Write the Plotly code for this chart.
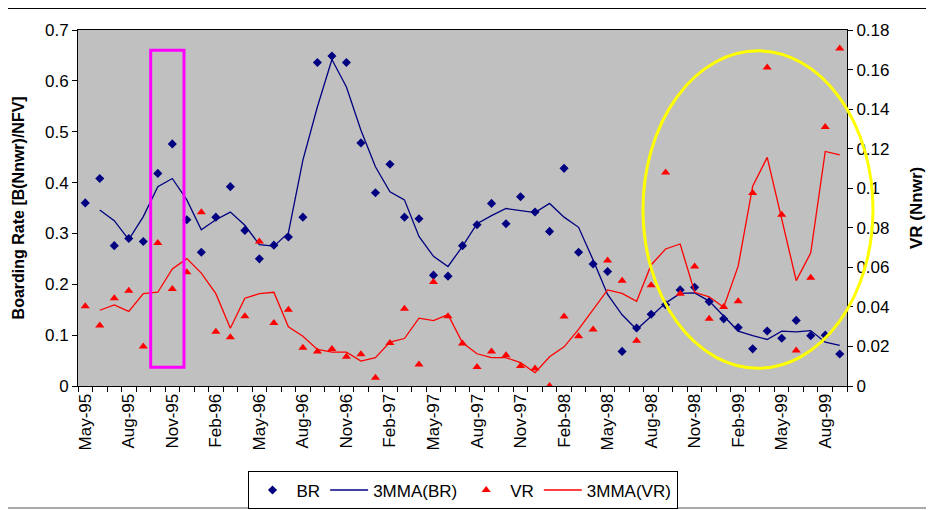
# ================================
# Bibliotecas
# ================================
import pandas as pd
import plotly.graph_objects as go

# ================================
# Dados
# ================================
meses = list(pd.date_range('1995-05-01', periods=53, freq='MS').strftime('%b-%y'))

br = [0.360, 0.408, 0.276, 0.290, 0.284, 0.418, 0.476, 0.327,
      0.263, 0.332, 0.392, 0.306, 0.250, 0.277, 0.293, 0.332, 0.636, 0.649, 0.636, 0.478,
      0.380, 0.436, 0.332, 0.329, 0.218, 0.216, 0.276, 0.317, 0.359, 0.319, 0.372, 0.342,
      0.304, 0.428, 0.263, 0.240, 0.225, 0.068, 0.114, 0.141, 0.160, 0.189, 0.194, 0.166,
      0.132, 0.115, 0.073, 0.108, 0.094, 0.129, 0.099, 0.100, 0.063]

mma_br = [None, 0.346, 0.325, 0.288, 0.333, 0.392, 0.408, 0.366,
          0.307, 0.327, 0.342, 0.316, 0.278, 0.275, 0.301, 0.444, 0.549, 0.642, 0.588, 0.503,
          0.431, 0.382, 0.366, 0.294, 0.255, 0.235, 0.2745, 0.319, 0.335, 0.349, 0.345, 0.341,
          0.359, 0.332, 0.312, 0.248, 0.180, 0.140, 0.111, 0.137, 0.163, 0.182, 0.183, 0.167,
          0.138, 0.108, 0.099, 0.0915, 0.108, 0.1065, 0.109, 0.086, 0.080]

vr = [0.0403, 0.0306, 0.0444, 0.0481, 0.0200, 0.0723, 0.0491, 0.0575,
      0.0879, 0.0274, 0.0247, 0.0353, 0.0730, 0.0319, 0.0385, 0.0193, 0.0175, 0.0187, 0.0148, 0.0161,
      0.0042, 0.0218, 0.0390, 0.0109, 0.0526, 0.0353, 0.0215, 0.0096, 0.0175, 0.0155, 0.0101, 0.0089,
      0.0000, 0.0351, 0.0252, 0.0286, 0.0635, 0.0532, 0.0229, 0.0510, 0.1080, 0.0466, 0.0604, 0.0340,
      0.0399, 0.0428, 0.0976, 0.1610, 0.0866, 0.0180, 0.0547, 0.1310, 0.1707]

mma_vr = [None, 0.0383, 0.0410, 0.0377, 0.0467, 0.0474, 0.0592, 0.0644,
          0.0571, 0.0467, 0.0292, 0.0444, 0.0467, 0.0474, 0.0299, 0.0252, 0.0185, 0.0171, 0.0171, 0.0126,
          0.0143, 0.0222, 0.0240, 0.0343, 0.0331, 0.0361, 0.0218, 0.0163, 0.0143, 0.0143, 0.0118, 0.0067,
          0.0148, 0.0198, 0.0286, 0.0386, 0.0486, 0.0468, 0.0428, 0.0612, 0.0693, 0.0718, 0.0474, 0.0451,
          0.0398, 0.0606, 0.1010, 0.1156, 0.0841, 0.0533, 0.0673, 0.1186, 0.1169]

rotulos = [m if i % 3 == 0 else '' for i, m in enumerate(meses)]

# ================================
# Gráfico
# ================================
fonte = 'Liberation Sans, Arial, sans-serif'
azul = '#000080'
vermelho = '#FF0000'

fig = go.Figure()
fig.add_trace(go.Scatter(x=meses, y=br, name='BR', mode='markers',
                         marker=dict(symbol='diamond', size=7, color=azul)))
fig.add_trace(go.Scatter(x=meses, y=mma_br, name='3MMA(BR)', mode='lines',
                         line=dict(color=azul, width=1.3)))
fig.add_trace(go.Scatter(x=meses, y=vr, name='VR', mode='markers', yaxis='y2',
                         marker=dict(symbol='triangle-up', size=8, color=vermelho)))
fig.add_trace(go.Scatter(x=meses, y=mma_vr, name='3MMA(VR)', mode='lines', yaxis='y2',
                         line=dict(color=vermelho, width=1.3)))

# a página tem margem de 8px no body: figura 926x502
fig.update_layout(
    width=926, height=502,
    margin=dict(l=70, r=87, t=22, b=124, autoexpand=False),
    paper_bgcolor='white', plot_bgcolor='#C0C0C0',
    font=dict(family=fonte, size=17, color='black'),
    showlegend=True,
    legend=dict(orientation='h', x=0.5, xanchor='center', y=-0.24, yanchor='top',
                bordercolor='black', borderwidth=1, font=dict(size=17),
                itemwidth=38, tracegroupgap=0),
    xaxis=dict(type='category', tickmode='array', tickvals=meses, ticktext=rotulos,
               tickangle=-90, tickson='boundaries', ticks='outside', ticklen=5,
               tickcolor='black', showline=True, linecolor='black', mirror=True,
               showgrid=False, zeroline=False, range=[-0.5, 52.5], automargin=False,
               tickfont=dict(size=17)),
    yaxis=dict(range=[0, 0.7], dtick=0.1, ticks='outside', ticklen=5, tickcolor='black',
               showline=True, linecolor='black', showgrid=False, zeroline=False,
               automargin=False),
    yaxis2=dict(range=[0, 0.18], dtick=0.02, overlaying='y', side='right',
                ticks='outside', ticklen=5, tickcolor='black', automargin=False,
                showline=True, linecolor='black', showgrid=False, zeroline=False),
)

# títulos dos eixos
fig.add_annotation(text='<b>Boarding Rate [B(Nnwr)/NFV]</b>', xref='paper', yref='paper',
                   x=-0.0775, y=0.5, textangle=-90, showarrow=False,
                   xanchor='center', yanchor='middle', font=dict(size=16))
fig.add_annotation(text='<b>VR (Nnwr)</b>', xref='paper', yref='paper',
                   x=1.0897, y=0.5, textangle=-90, showarrow=False,
                   xanchor='center', yanchor='middle', font=dict(size=17))

# destaques: retângulo magenta e elipse amarela
fig.add_shape(type='rect', xref='paper', yref='y', x0=0.0945, x1=0.1378, y0=0.037, y1=0.66,
              line=dict(color='#FF00FF', width=3))
fig.add_shape(type='circle', xref='paper', yref='y', x0=0.7347, x1=1.0338, y0=0.035, y1=0.659,
              line=dict(color='#FFFF00', width=3))

# bordas da área do gráfico
fig.add_shape(type='line', xref='paper', yref='paper', x0=-0.3, x1=1.3, y0=1.0604, y1=1.0604,
              line=dict(color='black', width=1))
fig.add_shape(type='line', xref='paper', yref='paper', x0=-0.3, x1=1.3, y0=-0.3427, y1=-0.3427,
              line=dict(color='#555555', width=1))

fig.write_html('out.html')
